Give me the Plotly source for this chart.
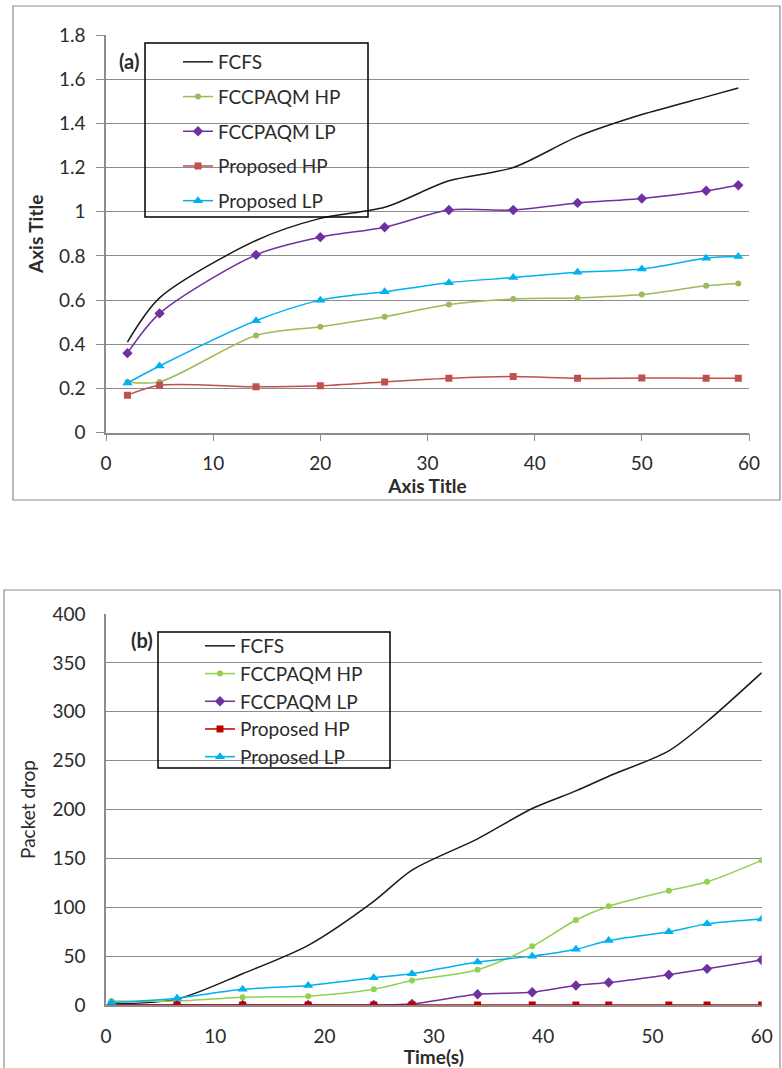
import plotly.graph_objects as go

# ---------------- data: chart (a) ----------------
time_a = [2, 5, 14, 20, 26, 32, 38, 44, 50, 56, 59]
fcfs_a = [0.41, 0.61, 0.87, 0.97, 1.02, 1.14, 1.20, 1.34, 1.44, 1.52, 1.56]
fcc_hp_a = [0.23, 0.23, 0.44, 0.48, 0.525, 0.58, 0.605, 0.61, 0.625, 0.665, 0.675]
fcc_lp_a = [0.36, 0.54, 0.805, 0.885, 0.93, 1.008, 1.008, 1.04, 1.06, 1.095, 1.12]
prop_hp_a = [0.17, 0.215, 0.208, 0.213, 0.23, 0.246, 0.254, 0.246, 0.248, 0.246, 0.247]
prop_lp_a = [0.225, 0.302, 0.507, 0.60, 0.638, 0.679, 0.702, 0.726, 0.741, 0.79, 0.797]

# ---------------- data: chart (b) ----------------
time_b = [0.5, 6.5, 12.5, 18.5, 24.5, 28, 34, 39, 43, 46, 51.5, 55, 60]
fcfs_b = [1, 6, 32, 61, 106, 138, 170, 201, 219, 234, 260, 290, 340]
fcc_hp_b = [4, 4, 8, 9, 16, 25, 36, 60, 87, 101, 117, 126, 148]
fcc_lp_b = [0, 0, 0, 0, 0, 1, 11, 13, 20, 23, 31, 37, 46]
prop_hp_b = [0, 0, 0, 0, 0, 0, 0, 0, 0, 0, 0, 0, 0]
prop_lp_b = [2.5, 7, 16, 20, 28, 32, 44, 50, 57, 66, 75, 83, 88]

names = ["FCFS", "FCCPAQM HP", "FCCPAQM LP", "Proposed HP", "Proposed LP"]
yticks_a = [0, 0.2, 0.4, 0.6, 0.8, 1, 1.2, 1.4, 1.6, 1.8]
yticklabels_a = ["0", "0.2", "0.4", "0.6", "0.8", "1", "1.2", "1.4", "1.6", "1.8"]
yticks_b = [0, 50, 100, 150, 200, 250, 300, 350, 400]
xticks = [0, 10, 20, 30, 40, 50, 60]

FONT = "Lato"
W, H = 782, 1068
TXT = "#2b2b2b"

colors_a = ["#1a1a1a", "#9BBB59", "#7030A0", "#C0504D", "#00B0F0"]
colors_b = ["#1a1a1a", "#92D050", "#7030A0", "#C00000", "#00B0F0"]
symbols = [None, "circle", "diamond", "square", "triangle-up"]
msizes = [0, 6, 8, 7, 9]

fig = go.Figure()

series_a = [fcfs_a, fcc_hp_a, fcc_lp_a, prop_hp_a, prop_lp_a]
series_b = [fcfs_b, fcc_hp_b, fcc_lp_b, prop_hp_b, prop_lp_b]

for i, (nm, ys) in enumerate(zip(names, series_a)):
    mode = "lines" if symbols[i] is None else "lines+markers"
    fig.add_trace(go.Scatter(
        x=time_a, y=ys, name=nm, mode=mode,
        line=dict(color=colors_a[i], width=1.5, shape="spline", smoothing=0.8),
        marker=dict(symbol=symbols[i] or "circle", size=msizes[i], color=colors_a[i]),
        xaxis="x", yaxis="y", legend="legend", legendgroup="a%d" % i,
    ))

for i, (nm, ys) in enumerate(zip(names, series_b)):
    mode = "lines" if symbols[i] is None else "lines+markers"
    fig.add_trace(go.Scatter(
        x=time_b, y=ys, name=nm, mode=mode,
        line=dict(color=colors_b[i], width=1.5, shape="spline", smoothing=0.8),
        marker=dict(symbol=symbols[i] or "circle", size=msizes[i], color=colors_b[i]),
        xaxis="x2", yaxis="y2", legend="legend2", legendgroup="b%d" % i,
    ))

def px_x(p):
    return p / W

def px_y(p):
    return 1 - p / H

grid = "#8c8c8c"
tickfont = dict(family=FONT, size=19, color=TXT)
titlefont_b = dict(family=FONT, size=19, color=TXT)

fig.update_layout(
    width=W, height=H,
    margin=dict(l=0, r=0, t=0, b=0, autoexpand=False),
    paper_bgcolor="white", plot_bgcolor="white",
    font=dict(family=FONT, color=TXT),
    xaxis=dict(
        domain=[px_x(106), px_x(749)], anchor="y", range=[0, 60], automargin=False,
        tickvals=xticks, ticks="outside", ticklen=7, tickcolor=grid,
        showline=True, linecolor=grid, linewidth=1.5, showgrid=False, zeroline=False,
        tickfont=tickfont, ticklabelstandoff=6,
        title=dict(text="<b>Axis Title</b>", font=titlefont_b, standoff=0),
    ),
    yaxis=dict(
        domain=[px_y(432.7), px_y(35)], anchor="x", range=[0, 1.8], automargin=False,
        tickvals=yticks_a, ticktext=yticklabels_a, ticks="outside", ticklen=8, tickcolor=grid,
        showline=True, linecolor=grid, linewidth=1.5, showgrid=True, gridcolor=grid, gridwidth=1.2,
        zeroline=False, tickfont=tickfont, ticklabelstandoff=7,
        title=dict(text="<b>Axis Title</b>", font=titlefont_b, standoff=10),
    ),
    xaxis2=dict(
        domain=[px_x(106), px_x(761.7)], anchor="y2", range=[0, 60], automargin=False,
        tickvals=xticks, ticks="",
        showline=True, linecolor=grid, linewidth=1.5, showgrid=False, zeroline=False,
        tickfont=tickfont, ticklabelstandoff=13,
        title=dict(text="<b>Time(s)</b>", font=titlefont_b, standoff=1),
    ),
    yaxis2=dict(
        domain=[px_y(1005), px_y(614)], anchor="x2", range=[0, 400], automargin=False,
        tickvals=yticks_b, ticks="",
        showline=True, linecolor=grid, linewidth=1.5, showgrid=True, gridcolor=grid, gridwidth=1.2,
        zeroline=False, tickfont=tickfont, ticklabelstandoff=15,
        title=dict(text="Packet drop", font=titlefont_b, standoff=12),
    ),
    legend=dict(
        x=px_x(178), y=px_y(43), xanchor="left", yanchor="top",
        bgcolor="rgba(0,0,0,0)", borderwidth=0,
        font=dict(family=FONT, size=19, color=TXT),
        tracegroupgap=7,
    ),
    legend2=dict(
        x=px_x(200), y=px_y(627), xanchor="left", yanchor="top",
        bgcolor="rgba(0,0,0,0)", borderwidth=0,
        font=dict(family=FONT, size=19, color=TXT),
        tracegroupgap=0,
    ),
    showlegend=True,
)

# outer chart-area borders
fig.add_shape(type="rect", xref="paper", yref="paper",
              x0=px_x(13), x1=px_x(780), y0=px_y(500), y1=px_y(6),
              line=dict(color="#8c8c8c", width=1.2), layer="below")
fig.add_shape(type="rect", xref="paper", yref="paper",
              x0=px_x(4), x1=px_x(780), y0=px_y(1080), y1=px_y(590),
              line=dict(color="#8c8c8c", width=1.2), layer="below")
# legend frames
fig.add_shape(type="rect", xref="paper", yref="paper",
              x0=px_x(145), x1=px_x(368), y0=px_y(217), y1=px_y(43),
              line=dict(color="#000000", width=1.5))
fig.add_shape(type="rect", xref="paper", yref="paper",
              x0=px_x(158), x1=px_x(390), y0=px_y(768), y1=px_y(632),
              line=dict(color="#000000", width=1.5))

fig.add_annotation(text="<b>(a)</b>", xref="paper", yref="paper",
                   x=px_x(117), y=px_y(61), xanchor="left", yanchor="middle",
                   showarrow=False, font=dict(family=FONT, size=20, color=TXT))
fig.add_annotation(text="<b>(b)</b>", xref="paper", yref="paper",
                   x=px_x(129), y=px_y(640), xanchor="left", yanchor="middle",
                   showarrow=False, font=dict(family=FONT, size=20, color=TXT))

fig.write_html("out.html", config={"displayModeBar": False},
               post_script="document.body.style.margin='0';")
